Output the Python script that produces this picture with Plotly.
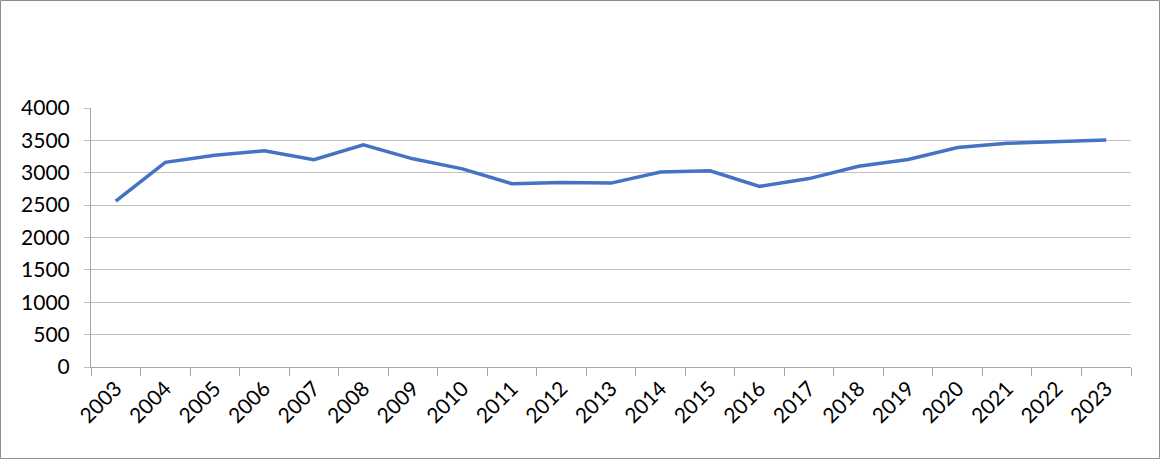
import plotly.graph_objects as go

years = [str(y) for y in range(2003, 2024)]
values = [2560, 3160, 3270, 3340, 3200, 3430, 3215, 3060, 2830, 2850, 2840,
          3010, 3030, 2790, 2910, 3100, 3205, 3390, 3455, 3475, 3505]
y_ticks = [0, 500, 1000, 1500, 2000, 2500, 3000, 3500, 4000]

W, H = 1160, 459
ml, mr, mt, mb = 91, 29, 108, 92
pw, ph = W - ml - mr, H - mt - mb

fig = go.Figure()
fig.add_trace(go.Scatter(x=years, y=values, mode="lines",
                         line=dict(color="#4472C4", width=3.5),
                         showlegend=False, hoverinfo="x+y"))

fig.update_layout(
    width=W, height=H,
    margin=dict(l=ml, r=mr, t=mt, b=mb),
    paper_bgcolor="white", plot_bgcolor="white",
    font=dict(family="Lato, 'Open Sans', sans-serif", size=21, color="#000000"),
    xaxis=dict(type="category", range=[-0.5, 20.5], tickangle=-45,
               showline=True, linecolor="#a6a6a6", linewidth=1,
               ticks="outside", tickson="boundaries", ticklen=8, tickcolor="#a6a6a6",
               showgrid=False, tickfont=dict(size=21)),
    yaxis=dict(range=[0, 4000], tickvals=y_ticks, showgrid=True,
               gridcolor="#bfbfbf", gridwidth=1, zeroline=False,
               showline=True, linecolor="#a6a6a6", linewidth=1,
               ticks="outside", ticklen=6, tickcolor="#bfbfbf",
               ticklabelstandoff=10, tickfont=dict(size=21)),
    shapes=[dict(type="rect", xref="paper", yref="paper",
                 x0=(0.5 - ml) / pw, x1=(W - 0.5 - ml) / pw,
                 y0=-(mb - 0.5) / ph, y1=(ph + mt - 0.5) / ph,
                 line=dict(color="#8c8c8c", width=1), layer="above")],
)

fig.write_html("out.html", config={"displayModeBar": False},
               post_script="document.body.style.margin='0';document.body.style.overflow='hidden';")
